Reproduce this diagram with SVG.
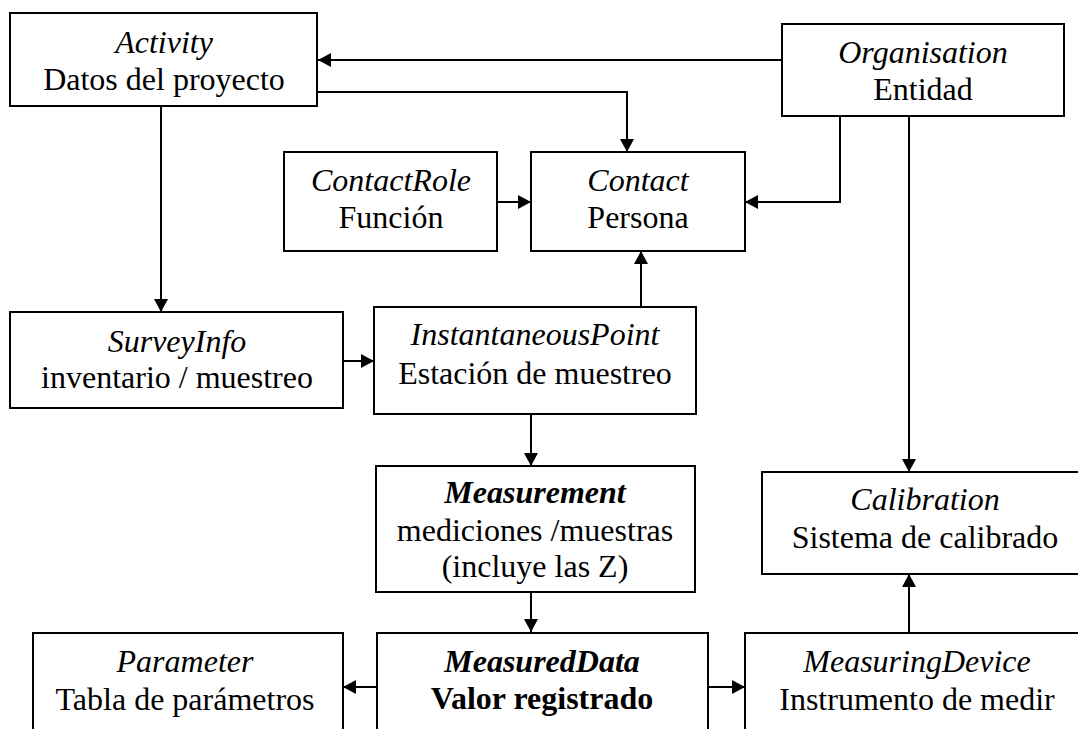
<svg xmlns="http://www.w3.org/2000/svg" width="1078" height="729" viewBox="0 0 1078 729" font-family="'Liberation Serif', Tinos, 'Times New Roman', 'DejaVu Serif', serif">
<defs>
<style>
.box{fill:#fff;stroke:#000;stroke-width:2}
text{font-family:'Liberation Serif',Tinos,'Times New Roman','DejaVu Serif',serif;font-size:32px;fill:#000;text-anchor:middle}
.i{font-style:italic}
.b{font-weight:bold}
.c{fill:none;stroke:#000;stroke-width:2}
</style>
<marker id="ah" markerWidth="14" markerHeight="14" refX="13" refY="7" orient="auto" markerUnits="userSpaceOnUse">
<path d="M0,0 L13,7 L0,14 z" fill="#000"/>
</marker>
</defs>
<rect width="1078" height="729" fill="#fff"/>
<g id="connectors">
<path class="c" d="M782,60 H318" marker-end="url(#ah)"/>
<path class="c" d="M318,92 H627 V152" marker-end="url(#ah)"/>
<path class="c" d="M161,106 V312" marker-end="url(#ah)"/>
<path class="c" d="M840,116 V202 H745" marker-end="url(#ah)"/>
<path class="c" d="M909,116 V472" marker-end="url(#ah)"/>
<path class="c" d="M497,202 H531" marker-end="url(#ah)"/>
<path class="c" d="M343,361 H374" marker-end="url(#ah)"/>
<path class="c" d="M641,307 V251" marker-end="url(#ah)"/>
<path class="c" d="M531,414 V466" marker-end="url(#ah)"/>
<path class="c" d="M531,592 V632" marker-end="url(#ah)"/>
<path class="c" d="M377,687 H343" marker-end="url(#ah)"/>
<path class="c" d="M708,687 H745" marker-end="url(#ah)"/>
<path class="c" d="M909,633 V574" marker-end="url(#ah)"/>
</g>
<g id="activity">
<rect class="box" x="10" y="13" width="307" height="93"/>
<text class="i" x="164" y="53">Activity</text>
<text x="164" y="90">Datos del proyecto</text>
</g>
<g id="organisation">
<rect class="box" x="782" y="24" width="282" height="92"/>
<text class="i" x="923" y="63">Organisation</text>
<text x="923" y="100">Entidad</text>
</g>
<g id="contactrole">
<rect class="box" x="284" y="152" width="213" height="99"/>
<text class="i" x="391" y="191">ContactRole</text>
<text x="391" y="228">Función</text>
</g>
<g id="contact">
<rect class="box" x="531" y="152" width="214" height="99"/>
<text class="i" x="638" y="191">Contact</text>
<text x="638" y="228">Persona</text>
</g>
<g id="surveyinfo">
<rect class="box" x="10" y="312" width="333" height="96"/>
<text class="i" x="177" y="352">SurveyInfo</text>
<text x="177" y="388">inventario / muestreo</text>
</g>
<g id="instantaneouspoint">
<rect class="box" x="374" y="307" width="322" height="107"/>
<text class="i" x="535" y="345">InstantaneousPoint</text>
<text x="535" y="384">Estación de muestreo</text>
</g>
<g id="measurement">
<rect class="box" x="376" y="466" width="319" height="126"/>
<text class="i b" x="535" y="503">Measurement</text>
<text x="535" y="541">mediciones /muestras</text>
<text x="535" y="577">(incluye las Z)</text>
</g>
<g id="calibration">
<rect class="box" x="762" y="472" width="330" height="102"/>
<text class="i" x="925" y="510">Calibration</text>
<text x="925" y="548">Sistema de calibrado</text>
</g>
<g id="parameter">
<rect class="box" x="33" y="633" width="310" height="110"/>
<text class="i" x="185" y="672">Parameter</text>
<text x="185" y="710">Tabla de parámetros</text>
</g>
<g id="measureddata">
<rect class="box" x="377" y="633" width="331" height="110"/>
<text class="i b" x="542" y="672">MeasuredData</text>
<text class="b" x="542" y="709">Valor registrado</text>
</g>
<g id="measuringdevice">
<rect class="box" x="745" y="633" width="345" height="110"/>
<text class="i" x="917" y="672">MeasuringDevice</text>
<text x="917" y="710">Instrumento de medir</text>
</g>
</svg>
